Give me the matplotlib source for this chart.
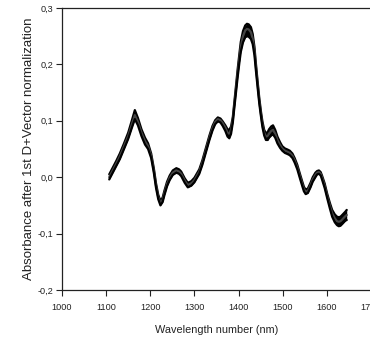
import matplotlib
matplotlib.use("Agg")
import matplotlib.pyplot as plt
from matplotlib.ticker import FuncFormatter

plt.rcParams['font.family'] = ['Liberation Sans', 'DejaVu Sans']

wavelength = [1107, 1115, 1123, 1131, 1140, 1150, 1158, 1165, 1172, 1180, 1188, 1195,
              1202, 1208, 1213, 1218, 1223, 1228, 1232, 1238, 1244, 1251, 1259, 1265,
              1270, 1278, 1285, 1293, 1300, 1311, 1318, 1326, 1334, 1341, 1347, 1353,
              1359, 1364, 1370, 1375, 1379, 1383, 1387, 1390, 1394, 1398, 1402, 1405,
              1410, 1415, 1419, 1423, 1428, 1432, 1436, 1439, 1443, 1447, 1451, 1454,
              1458, 1462, 1466, 1469, 1474, 1478, 1483, 1488, 1494, 1499, 1505, 1511,
              1516, 1522, 1527, 1533, 1539, 1544, 1548, 1552, 1557, 1563, 1568, 1574,
              1578, 1582, 1586, 1589, 1595, 1601, 1607, 1612, 1618, 1623, 1627, 1631,
              1636, 1642, 1645]

spec_mid = [0.000, 0.012, 0.024, 0.037, 0.054, 0.073, 0.093, 0.110, 0.098, 0.079, 0.064, 0.055,
            0.038, 0.012, -0.015, -0.035, -0.046, -0.040, -0.028, -0.012, -0.001, 0.008, 0.012, 0.010,
            0.006, -0.006, -0.014, -0.011, -0.005, 0.010, 0.026, 0.048, 0.070, 0.087, 0.098, 0.103,
            0.101, 0.096, 0.088, 0.079, 0.077, 0.084, 0.102, 0.125, 0.155, 0.185, 0.212, 0.231,
            0.250, 0.260, 0.263, 0.262, 0.257, 0.246, 0.224, 0.198, 0.166, 0.135, 0.110, 0.094,
            0.079, 0.072, 0.073, 0.077, 0.082, 0.084, 0.077, 0.066, 0.057, 0.051, 0.047, 0.045,
            0.043, 0.038, 0.030, 0.018, 0.002, -0.011, -0.021, -0.026, -0.024, -0.014, -0.004, 0.004,
            0.008, 0.009, 0.006, 0.000, -0.015, -0.034, -0.051, -0.064, -0.073, -0.078, -0.079, -0.078,
            -0.074, -0.069, -0.067]

spec_high = [0.005, 0.017, 0.029, 0.042, 0.059, 0.079, 0.100, 0.119, 0.105, 0.085, 0.070, 0.060,
             0.042, 0.016, -0.011, -0.031, -0.042, -0.036, -0.024, -0.008, 0.003, 0.012, 0.016, 0.014,
             0.010, -0.002, -0.010, -0.007, -0.001, 0.014, 0.030, 0.052, 0.074, 0.091, 0.101, 0.106,
             0.104, 0.099, 0.092, 0.085, 0.084, 0.090, 0.107, 0.130, 0.161, 0.192, 0.220, 0.240,
             0.259, 0.269, 0.272, 0.271, 0.266, 0.254, 0.231, 0.204, 0.171, 0.140, 0.115, 0.099,
             0.084, 0.078, 0.080, 0.085, 0.090, 0.092, 0.084, 0.072, 0.062, 0.055, 0.051, 0.049,
             0.047, 0.042, 0.034, 0.022, 0.006, -0.007, -0.017, -0.022, -0.020, -0.010, 0.000, 0.008,
             0.011, 0.012, 0.009, 0.003, -0.011, -0.030, -0.046, -0.058, -0.066, -0.070, -0.071, -0.070,
             -0.066, -0.061, -0.058]

spec_low = [-0.004, 0.008, 0.020, 0.032, 0.049, 0.068, 0.087, 0.103, 0.092, 0.073, 0.058, 0.050,
            0.034, 0.008, -0.019, -0.039, -0.050, -0.044, -0.032, -0.016, -0.005, 0.004, 0.008, 0.006,
            0.002, -0.010, -0.018, -0.015, -0.009, 0.006, 0.022, 0.044, 0.066, 0.083, 0.094, 0.099,
            0.097, 0.091, 0.082, 0.072, 0.069, 0.077, 0.097, 0.120, 0.149, 0.178, 0.204, 0.222,
            0.239, 0.248, 0.250, 0.249, 0.245, 0.236, 0.216, 0.191, 0.160, 0.130, 0.106, 0.089,
            0.074, 0.066, 0.066, 0.070, 0.074, 0.076, 0.070, 0.060, 0.052, 0.047, 0.043, 0.041,
            0.039, 0.034, 0.026, 0.014, -0.002, -0.015, -0.025, -0.030, -0.028, -0.018, -0.008, 0.000,
            0.005, 0.006, 0.003, -0.004, -0.019, -0.038, -0.056, -0.070, -0.080, -0.085, -0.087, -0.086,
            -0.082, -0.077, -0.076]

x_ticks = [1000, 1100, 1200, 1300, 1400, 1500, 1600, 1700]
y_ticks = [-0.2, -0.1, 0.0, 0.1, 0.2, 0.3]

fig = plt.figure(figsize=(3.70, 3.41), dpi=100)
ax = fig.add_axes([62/370, 1-290/341, (371-62)/370, (290-8)/341])

ax.fill_between(wavelength, spec_low, spec_high, color='black', lw=0)
for s, c in ((spec_high, 'black'), (spec_mid, '#444444'), (spec_low, 'black')):
    ax.plot(wavelength, s, color=c, lw=1.6, solid_capstyle='round')

ax.set_xlim(1000, 1700)
ax.set_ylim(-0.2, 0.3)
ax.set_xticks(x_ticks)
ax.set_yticks(y_ticks)
ax.yaxis.set_major_formatter(FuncFormatter(lambda v, p: f"{v:.1f}".replace('.', ',').replace('-0,0', '0,0')))
ax.xaxis.set_major_formatter(FuncFormatter(lambda v, p: f"{int(v)}"))
ax.tick_params(direction='out', length=4, width=0.8, labelsize=6.6, colors='#222222')
ax.tick_params(axis='x', pad=5)
ax.tick_params(axis='y', pad=2)
ax.spines['right'].set_visible(False)
for sp in ('left', 'bottom', 'top'):
    ax.spines[sp].set_linewidth(0.9)
    ax.spines[sp].set_color('#222222')

ax.set_xlabel('Wavelength number (nm)', fontsize=7.8, labelpad=10, color='#222222')
ax.set_ylabel('Absorbance after 1st D+Vector normalization', fontsize=9.5, color='#222222')
ax.yaxis.set_label_coords(-0.088, 0.502)

fig.savefig('out.png', dpi=100)
